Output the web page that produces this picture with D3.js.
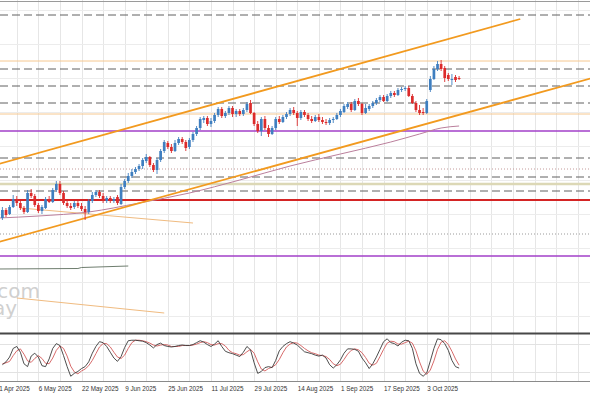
<!DOCTYPE html>
<html>
<head>
<meta charset="utf-8">
<script src="https://cdn.jsdelivr.net/npm/d3@7"></script>
<style>
body{margin:0;background:#fff;overflow:hidden}
svg{display:block;font-family:"Liberation Sans",Arial,sans-serif}
</style>
</head>
<body>
<svg id="myGraph" width="590" height="393"></svg>
<script>
// daily candles, index 0..127 (about 21 Apr .. 15 Oct 2025)
var openP = [1114,1122,1118,1125,1133,1129,1124,1120,1139,1136, 1127,1121,1124,1133,1130,1142,1148,1139,1129,1126,
	1125,1129,1126,1123,1120,1131,1137,1140,1136,1131, 1134,1131,1135,1128,1145,1151,1156,1160,1163,1166,
	1171,1175,1167,1162,1172,1181,1189,1185,1181,1189, 1193,1190,1185,1192,1198,1204,1212,1214,1208,1211,
	1217,1223,1216,1219,1224,1218,1221,1218,1222,1229, 1219,1208,1201,1213,1204,1198,1204,1213,1210,1215,
	1218,1222,1219,1214,1220,1217,1213,1211,1215,1212, 1210,1209,1212,1213,1217,1220,1225,1228,1222,1231,
	1228,1219,1223,1226,1229,1232,1235,1231,1236,1239, 1237,1242,1243,1244,1236,1229,1222,1220,1219,1242,
	1253,1263,1268,1264,1257,1253,1255,1254];
var closeP = [1122,1117,1125,1133,1129,1124,1120,1139,1136,1127, 1121,1125,1133,1130,1142,1148,1139,1129,1126,1124,
	1129,1126,1123,1120,1131,1137,1140,1136,1131,1134, 1131,1133,1129,1145,1151,1156,1160,1163,1166,1172,
	1175,1167,1162,1172,1181,1190,1185,1181,1189,1193, 1190,1184,1192,1198,1204,1213,1214,1208,1211,1217,
	1223,1216,1219,1224,1218,1221,1218,1222,1228,1219, 1208,1201,1213,1204,1198,1204,1213,1210,1215,1218,
	1222,1219,1214,1220,1217,1213,1211,1215,1212,1210, 1209,1212,1213,1217,1221,1226,1228,1222,1231,1228,
	1219,1224,1226,1229,1232,1235,1231,1236,1239,1237, 1242,1243,1244,1236,1229,1222,1219,1219,1231,1253,
	1263,1268,1263,1254,1253,1253,1252,1253];
var highP = [1125,1124,1127,1137,1136,1131,1126,1142,1143,1138, 1129,1127,1135,1136,1144,1151,1151,1141,1132,1129,
	1131,1131,1129,1126,1133,1140,1142,1142,1139,1136, 1136,1135,1137,1148,1153,1159,1163,1165,1168,1174,
	1178,1176,1169,1174,1183,1192,1191,1188,1192,1195, 1195,1192,1194,1200,1206,1215,1216,1216,1214,1219,
	1225,1225,1221,1226,1226,1223,1223,1224,1230,1232, 1220,1211,1215,1216,1207,1206,1215,1216,1217,1220,
	1224,1225,1221,1222,1222,1219,1216,1217,1218,1215, 1213,1214,1215,1219,1223,1228,1230,1230,1233,1234,
	1229,1228,1228,1231,1234,1237,1237,1238,1241,1241, 1244,1245,1246,1246,1238,1231,1227,1224,1233,1256,
	1266,1271,1272,1266,1259,1258,1257,1256];
var lowP = [1112,1115,1117,1124,1126,1122,1118,1119,1134,1125, 1119,1118,1123,1129,1129,1140,1137,1127,1124,1122,
	1123,1124,1121,1112,1118,1129,1135,1134,1129,1129, 1129,1129,1127,1127,1143,1149,1154,1158,1161,1163,
	1169,1165,1160,1158,1170,1179,1183,1179,1180,1187, 1188,1181,1183,1190,1196,1202,1209,1206,1205,1209,
	1215,1214,1214,1217,1215,1215,1216,1216,1220,1218, 1206,1199,1196,1202,1195,1197,1202,1208,1209,1213,
	1216,1217,1206,1212,1215,1211,1209,1210,1210,1208, 1207,1207,1209,1212,1215,1219,1223,1220,1221,1226,
	1217,1218,1221,1224,1227,1230,1230,1230,1234,1235, 1236,1240,1241,1235,1228,1220,1217,1217,1218,1240,
	1252,1261,1261,1250,1251,1247,1250,1252];

// stochastic %K and %D
var stochK = [36,42,52,70,74,62,38,32,54,60, 52,34,32,48,70,80,76,55,32,12, 18,22,28,32,42,60,74,84,82,74,
	62,50,43,53,72,86,87,87,86,85, 82,77,71,78,81,76,74,73,74,76, 77,76,76,78,82,86,83,78,74,79,
	86,74,64,61,59,56,53,62,74,67, 40,18,22,30,32,30,45,65,74,80, 84,81,77,70,63,61,59,56,54,56,
	50,36,29,36,46,60,69,69,68,64, 50,40,28,38,52,68,84,90,82,80, 75,83,87,86,70,38,18,12,19,44,
	70,90,88,80,66,45,32,29];
var stochD = [38,40,43,55,65,69,58,44,41,49, 55,49,39,38,50,66,75,70,54,33, 21,17,23,27,34,45,59,73,80,80,
	73,62,52,49,56,70,82,87,87,86, 84,81,77,75,77,78,77,74,74,74, 76,76,76,77,79,82,84,82,78,77,
	80,80,75,66,61,59,56,57,63,68, 60,42,27,23,28,31,36,47,61,73, 79,82,81,76,70,65,61,59,56,55,
	53,47,38,34,37,47,58,66,69,67, 61,51,39,35,39,53,68,81,85,84, 79,79,82,85,81,65,42,23,16,25,
	44,68,83,86,78,64,48,35];

// date labels every 12 bars
var labelIdx = [-2,10,22,34,46,58,70,82,94,106,118];
var dateLabels = ["21 Apr 2025","6 May 2025","22 May 2025","9 Jun 2025","25 Jun 2025","11 Jul 2025",
	"29 Jul 2025","14 Aug 2025","1 Sep 2025","17 Sep 2025","3 Oct 2025"];
var gridIdx = d3.range(-2, 167, 6);
var gridPrice = [1016,1050,1084,1118,1152,1186,1220,1254,1288,1322];

// horizontal levels
var dashedLevels = [1317,1263,1246,1229,1174,1155,1141];
var orangeLevels = [1271,1218];
var purpleLevels = [1201,1076];
var redLevels = [1132];
var beigeLevels = [1148];
var dotPinkLevels = [1163];
var dotGrayLevels = [1098];

// channel and other drawn lines [idx0, price0, idx1, price1]
var channelUpper = [-1,1168,144,1313];
var channelLower = [-1,1090,165,1255];
var tanLine1 = [5,1124,53,1109];
var tanLine2 = [4,1034,45,1019];
var grayIdx = [-1,21,22,35];
var grayVal = [1063,1063.5,1064.5,1066];
var maIdx = [-1,10,24,38,52,66,80,94,108,116,122,127];
var maVal = [1114,1116,1120,1129,1139,1152,1166,1178,1190,1198,1204,1206];

window.addEventListener("load", function(){
	var svg = d3.select("#myGraph");
	var W = 590;
	var x = d3.scaleLinear().domain([0,127]).range([2.4,459.1]);
	var y = d3.scaleLinear().domain([1000,1332]).range([332,0]);
	var ys = d3.scaleLinear().domain([0,100]).range([382,334]);

	// vertical grid
	svg.append("g").attr("transform","translate(0,382)")
		.call(d3.axisBottom(x).tickValues(gridIdx).tickSize(-382).tickFormat(""))
		.call(function(g){
			g.select(".domain").remove();
			g.selectAll("line").attr("stroke","#e6e6e6").attr("shape-rendering","crispEdges");
		});
	// horizontal grid
	svg.append("g")
		.call(d3.axisLeft(y).tickValues(gridPrice).tickSize(-W).tickFormat(""))
		.call(function(g){
			g.select(".domain").remove();
			g.selectAll("line").attr("stroke","#ececec").attr("shape-rendering","crispEdges");
		});

	// stochastic 80/20 levels
	svg.selectAll(".slev").data([80,20]).enter().append("line")
		.attr("x1",0).attr("x2",W).attr("y1",function(d){return Math.round(ys(d))+0.5;})
		.attr("y2",function(d){return Math.round(ys(d))+0.5;})
		.attr("stroke","#e2e2e2");

	function hlines(data, color, width, dash){
		svg.append("g").selectAll("line").data(data).enter().append("line")
			.attr("x1",0).attr("x2",W)
			.attr("y1",function(d){return y(d);}).attr("y2",function(d){return y(d);})
			.attr("stroke",color).attr("stroke-width",width)
			.attr("stroke-dasharray",dash || null);
	}
	hlines(dashedLevels,"#606060",1,"8,4");
	hlines(orangeLevels,"#f6c890",1);
	hlines(dotPinkLevels,"#c49a9a",1,"1,2");
	hlines(dotGrayLevels,"#9a9a9a",1,"1,2");
	hlines(beigeLevels,"#dcd8b6",2.5);
	hlines(purpleLevels,"#a23fc8",1.6);
	hlines(redLevels,"#d42424",2);

	// watermark (cut at the left edge)
	var wm = svg.append("text").attr("text-anchor","end")
		.style("font-family","DejaVu Sans").style("font-size","20px").attr("fill","#d0d0d0");
	wm.append("tspan").attr("x",40).attr("y",298).text("com");
	wm.append("tspan").attr("x",17).attr("y",315).text("ay");

	function seg(s, color, width){
		svg.append("line")
			.attr("x1",x(s[0])).attr("y1",y(s[1])).attr("x2",x(s[2])).attr("y2",y(s[3]))
			.attr("stroke",color).attr("stroke-width",width);
	}
	seg(tanLine1,"#f0bb80",1);
	seg(tanLine2,"#f0bb80",1);

	svg.append("path").datum(d3.zip(grayIdx,grayVal))
		.attr("d", d3.line().x(function(d){return x(d[0]);}).y(function(d){return y(d[1]);}))
		.attr("fill","none").attr("stroke","#6e7d6e").attr("stroke-width",1);

	svg.append("path").datum(d3.zip(maIdx,maVal))
		.attr("d", d3.line().curve(d3.curveMonotoneX).x(function(d){return x(d[0]);}).y(function(d){return y(d[1]);}))
		.attr("fill","none").attr("stroke","#bb7f9c").attr("stroke-width",1);

	seg(channelUpper,"#f29a1f",1.8);
	seg(channelLower,"#f29a1f",1.8);

	// candles
	var bars = d3.range(openP.length).map(function(i){
		return {i:i, o:openP[i], h:highP[i], l:lowP[i], c:closeP[i]};
	});
	var up = "#3f7fc0", dn = "#dc2b2b";
	var cg = svg.append("g");
	cg.selectAll("line").data(bars).enter().append("line")
		.attr("x1",function(d){return x(d.i);}).attr("x2",function(d){return x(d.i);})
		.attr("y1",function(d){return y(d.h);}).attr("y2",function(d){return y(d.l);})
		.attr("stroke",function(d){return d.c>=d.o?up:dn;}).attr("stroke-width",0.9);
	cg.selectAll("rect").data(bars).enter().append("rect")
		.attr("x",function(d){return x(d.i)-1.35;}).attr("width",2.7)
		.attr("y",function(d){return y(Math.max(d.o,d.c));})
		.attr("height",function(d){return Math.max(1, Math.abs(y(d.o)-y(d.c)));})
		.attr("fill",function(d){return d.c>=d.o?up:dn;});

	// frame lines
	svg.append("line").attr("x1",0).attr("x2",W).attr("y1",1.5).attr("y2",1.5).attr("stroke","#9a9a9a");
	svg.append("line").attr("x1",0).attr("x2",W).attr("y1",333.5).attr("y2",333.5).attr("stroke","#474747").attr("stroke-width",2);
	svg.append("line").attr("x1",0).attr("x2",W).attr("y1",381.5).attr("y2",381.5).attr("stroke","#8a8a8a");

	// stochastic
	var sline = d3.line().x(function(d,i){return x(i);}).y(function(d){return ys(d);});
	svg.append("path").datum(stochD).attr("d",sline)
		.attr("fill","none").attr("stroke","#d35a5a").attr("stroke-width",0.9);
	svg.append("path").datum(stochK).attr("d",sline)
		.attr("fill","none").attr("stroke","#3a3a3a").attr("stroke-width",0.9);

	// date labels
	svg.append("g").attr("transform","translate(0,382)")
		.call(d3.axisBottom(x).tickValues(labelIdx).tickSize(0).tickFormat(function(d,i){return dateLabels[i];}))
		.call(function(g){
			g.select(".domain").remove();
			g.selectAll("text").attr("y",8.5).attr("dy",null).attr("text-anchor","start")
				.attr("fill","#333").style("font-family","Liberation Sans").style("font-size","6.3px");
		});
});
</script>
</body>
</html>
